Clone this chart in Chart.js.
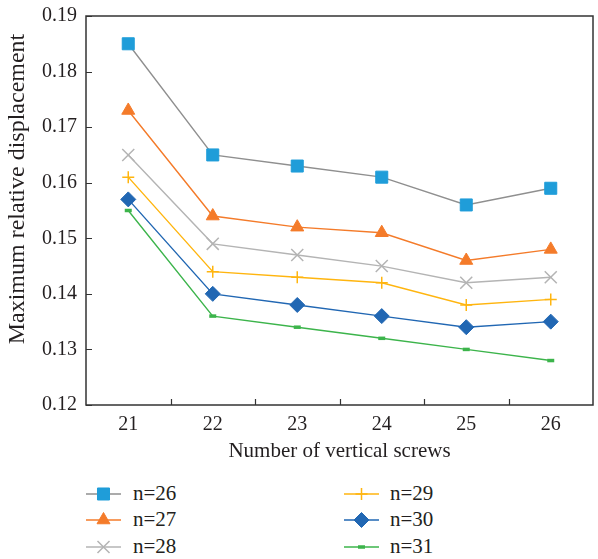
<!DOCTYPE html>
<html>
<head>
<meta charset="utf-8">
<script src="https://cdn.jsdelivr.net/npm/chart.js@4/dist/chart.umd.min.js"></script>
<style>
  html, body { margin:0; padding:0; background:#fff; overflow:hidden; width:598px; height:559px; }
  #wrap { position:absolute; left:0; top:0; width:603px; height:470px; }
  .leg { position:absolute; font-family:'Liberation Serif','DejaVu Serif',serif; font-size:21px; color:#231f20; line-height:24px; white-space:nowrap; }
  .legicon { position:absolute; }
</style>
</head>
<body>
<div id="wrap"><canvas id="c"></canvas></div>
<div id="legend"></div>
<script>
// ---- data ----
const categories = ['21', '22', '23', '24', '25', '26'];
const n26 = [0.185, 0.165, 0.163, 0.161, 0.156, 0.159];
const n27 = [0.173, 0.154, 0.152, 0.151, 0.146, 0.148];
const n28 = [0.165, 0.149, 0.147, 0.145, 0.142, 0.143];
const n29 = [0.161, 0.144, 0.143, 0.142, 0.138, 0.139];
const n30 = [0.157, 0.140, 0.138, 0.136, 0.134, 0.135];
const n31 = [0.155, 0.136, 0.134, 0.132, 0.130, 0.128];
const seriesNames = ['n=26', 'n=27', 'n=28', 'n=29', 'n=30', 'n=31'];
const yMin = 0.12, yMax = 0.19, yStep = 0.01;
const xTitle = 'Number of vertical screws';
const yTitle = 'Maximum relative displacement';

// ---- styles ----
const FONT = "'Liberation Serif','DejaVu Serif',serif";
const TXT = '#231f20';
const styles = [
  { line:'#8f8f8f', fill:'#1f9dd9', stroke:'#1f9dd9', shape:'rect',     r:8.5, bw:1 },
  { line:'#f47b2a', fill:'#f47b2a', stroke:'#f47b2a', shape:'triangle', r:7.5, bw:1 },
  { line:'#b4b4b4', fill:'#b4b4b4', stroke:'#b4b4b4', shape:'crossRot', r:8.5, bw:1.5 },
  { line:'#ffb50f', fill:'#ffb50f', stroke:'#ffb50f', shape:'cross',    r:6,   bw:1.5 },
  { line:'#2167b3', fill:'#2167b3', stroke:'#2167b3', shape:'rectRot',  r:7.5, bw:1 },
  { line:'#3cb44b', fill:'#3cb44b', stroke:'#3cb44b', shape:'line',     r:3.5, bw:3.5 }
];
const seriesData = [n26, n27, n28, n29, n30, n31];

const datasets = seriesData.map((d, i) => ({
  label: seriesNames[i],
  data: d,
  borderColor: styles[i].line,
  borderWidth: 1.4,
  backgroundColor: styles[i].fill,
  pointStyle: styles[i].shape,
  pointRadius: styles[i].r,
  pointHoverRadius: styles[i].r,
  pointBackgroundColor: styles[i].fill,
  pointBorderColor: styles[i].stroke,
  pointBorderWidth: styles[i].bw,
  tension: 0,
  order: i
}));

const framePlugin = {
  id: 'frame',
  afterDraw(chart) {
    const ctx = chart.ctx, a = chart.chartArea;
    const xs = chart.scales.x, ys = chart.scales.y;
    ctx.save();
    ctx.strokeStyle = '#333';
    ctx.lineWidth = 1.5;
    ctx.strokeRect(a.left, a.top, a.right - a.left, a.bottom - a.top);
    ctx.lineWidth = 1.2;
    ctx.beginPath();
    ys.ticks.forEach(t => {
      const y = Math.round(ys.getPixelForValue(t.value)) + 0.5;
      ctx.moveTo(a.left, y); ctx.lineTo(a.left + 6, y);
    });
    for (let i = 0; i < categories.length - 1; i++) {
      const x = Math.round((xs.getPixelForValue(i) + xs.getPixelForValue(i + 1)) / 2) + 0.5;
      ctx.moveTo(x, a.bottom); ctx.lineTo(x, a.bottom - 6);
    }
    ctx.stroke();
    // y axis title
    ctx.fillStyle = TXT;
    ctx.font = "24px " + FONT;
    ctx.textAlign = 'center';
    ctx.textBaseline = 'middle';
    ctx.translate(17.5, 189);
    ctx.rotate(-Math.PI / 2);
    ctx.fillText(yTitle, 0, 0);
    ctx.restore();
  }
};

new Chart(document.getElementById('c'), {
  type: 'line',
  data: { labels: categories, datasets },
  plugins: [framePlugin],
  options: {
    responsive: true,
    maintainAspectRatio: false,
    animation: false,
    layout: { padding: { top: 16, right: 1, left: 0, bottom: 0 } },
    plugins: { legend: { display: false }, tooltip: { enabled: false } },
    scales: {
      x: {
        type: 'category',
        offset: true,
        grid: { display: false, drawTicks: false },
        border: { display: false },
        ticks: { color: TXT, font: { family: FONT, size: 20 }, padding: 8, maxRotation: 0 },
        title: { display: true, text: xTitle, color: TXT, font: { family: FONT, size: 21 }, padding: { top: 0, bottom: 6 } },
        afterFit(s) { s.height = 65; s.paddingLeft = 0; s.paddingRight = 0; }
      },
      y: {
        min: yMin, max: yMax,
        grid: { display: false, drawTicks: false },
        border: { display: false },
        ticks: { stepSize: yStep, color: TXT, font: { family: FONT, size: 20 }, padding: 9,
                 callback: v => Number(v).toFixed(2) },
        title: { display: false },
        afterFit(s) { s.width = 86; s.paddingTop = 0; s.paddingBottom = 0; }
      }
    }
  }
});

// ---- legend (two columns) ----
function drawIcon(cv, st) {
  const ctx = cv.getContext('2d');
  const w = cv.width, h = cv.height, cx = w / 2, cy = h / 2;
  ctx.strokeStyle = st.line; ctx.lineWidth = 1.4;
  ctx.beginPath(); ctx.moveTo(0, cy); ctx.lineTo(w, cy); ctx.stroke();
  ctx.fillStyle = st.fill; ctx.strokeStyle = st.stroke; ctx.lineWidth = st.bw;
  const r = st.r;
  ctx.beginPath();
  if (st.shape === 'rect') { const s = r * Math.SQRT1_2; ctx.rect(cx - s, cy - s, 2 * s, 2 * s); ctx.fill(); ctx.stroke(); }
  else if (st.shape === 'triangle') {
    ctx.moveTo(cx, cy - r); ctx.lineTo(cx + r * 0.866, cy + r * 0.5); ctx.lineTo(cx - r * 0.866, cy + r * 0.5); ctx.closePath(); ctx.fill(); ctx.stroke();
  } else if (st.shape === 'crossRot') { const s = r * Math.SQRT1_2;
    ctx.moveTo(cx - s, cy - s); ctx.lineTo(cx + s, cy + s); ctx.moveTo(cx + s, cy - s); ctx.lineTo(cx - s, cy + s); ctx.stroke();
  } else if (st.shape === 'cross') {
    ctx.moveTo(cx - r, cy); ctx.lineTo(cx + r, cy); ctx.moveTo(cx, cy - r); ctx.lineTo(cx, cy + r); ctx.stroke();
  } else if (st.shape === 'rectRot') {
    ctx.moveTo(cx, cy - r); ctx.lineTo(cx + r, cy); ctx.lineTo(cx, cy + r); ctx.lineTo(cx - r, cy); ctx.closePath(); ctx.fill(); ctx.stroke();
  } else if (st.shape === 'line') {
    ctx.moveTo(cx - r, cy); ctx.lineTo(cx + r, cy); ctx.stroke();
  }
}
const legend = document.getElementById('legend');
const rowsY = [494, 520, 547];
const colX = [86, 344];
const textX = [133, 390];
seriesNames.forEach((name, i) => {
  const col = Math.floor(i / 3), row = i % 3;
  const cv = document.createElement('canvas');
  cv.width = 35; cv.height = 18; cv.className = 'legicon';
  cv.style.left = colX[col] + 'px'; cv.style.top = (rowsY[row] - 9) + 'px';
  drawIcon(cv, styles[i]);
  legend.appendChild(cv);
  const sp = document.createElement('div');
  sp.className = 'leg'; sp.textContent = name;
  sp.style.left = textX[col] + 'px'; sp.style.top = (rowsY[row] - 13) + 'px';
  legend.appendChild(sp);
});
</script>
</body>
</html>
